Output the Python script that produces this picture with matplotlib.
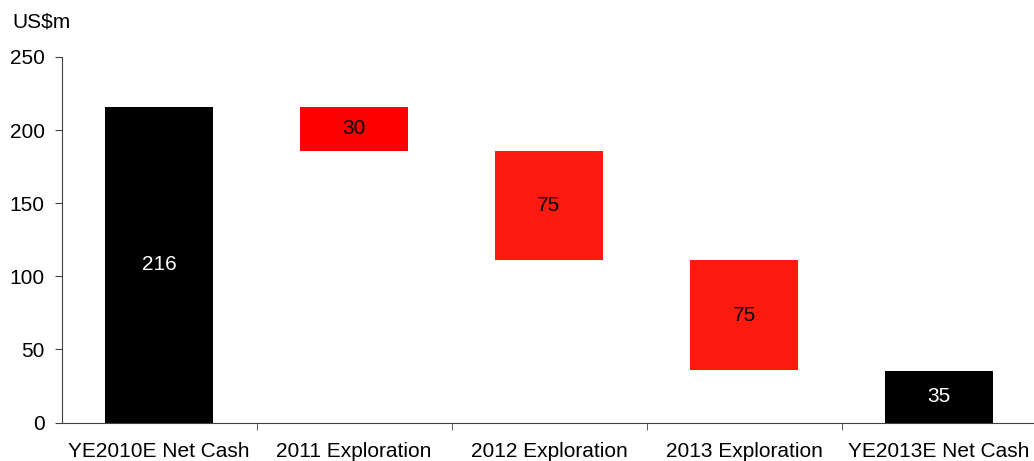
import numpy as np
import matplotlib.pyplot as plt

plt.rcParams['font.family'] = ['Liberation Sans', 'DejaVu Sans']

categories = ['YE2010E Net Cash', '2011 Exploration', '2012 Exploration',
              '2013 Exploration', 'YE2013E Net Cash']
start_cash = 216
exploration = [30, 75, 75]
end_cash = 35

# waterfall: totals sit on zero, spend bars float below the running total
heights = [start_cash] + exploration + [end_cash]
running = start_cash - np.cumsum(exploration)
bottoms = [0] + list(running) + [0]
colors = ['black', '#ff0000', '#ff1a10', '#ff1a10', 'black']
label_colors = ['white', 'black', 'black', 'black', 'white']

fig = plt.figure(figsize=(10.34, 4.61), dpi=100)
ax = fig.add_axes([61.5 / 1034, 38.5 / 461, 975 / 1034, 365.5 / 461])

x = np.arange(len(categories))
ax.bar(x, heights, bottom=bottoms, width=0.555, color=colors)

for xi, h, b, c in zip(x, heights, bottoms, label_colors):
    ax.text(xi, b + h / 2, str(h), ha='center', va='center', color=c, fontsize=15)

ax.set_xlim(-0.5, len(categories) - 0.5)
ax.set_ylim(0, 250)
ax.set_yticks(range(0, 251, 50))
ax.set_xticks(x)
ax.set_xticklabels(categories)
ax.set_xticks(x[:-1] + 0.5, minor=True)

for s in ['top', 'right']:
    ax.spines[s].set_visible(False)
for s in ['left', 'bottom']:
    ax.spines[s].set_color('#404040')

ax.tick_params(axis='x', which='major', length=0, pad=14, labelsize=15)
ax.tick_params(axis='x', which='minor', length=5, color='#404040', direction='out')
ax.tick_params(axis='y', length=5, pad=7, labelsize=15, color='#404040')

fig.text(12 / 1034, 1 - 22 / 461, 'US$m', ha='left', va='center', fontsize=15)

fig.savefig('out.png', dpi=100)
